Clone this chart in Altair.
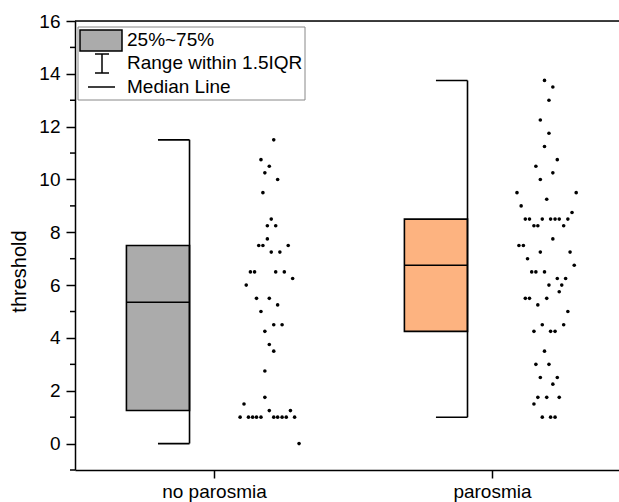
import altair as alt
import pandas as pd

# ---- data ----
categories = ["no parosmia", "parosmia"]
cat_pos = [1, 2]
q1 = [1.25, 4.25]
q3 = [7.5, 8.5]
median = [5.35, 6.75]
whisk_lo = [0.0, 1.0]
whisk_hi = [11.5, 13.75]
box_colors = ["#ABABAB", "#FDB380"]
major_ticks = list(range(0, 17, 2))
minor_ticks = list(range(-1, 16, 2))

# no parosmia raw points: value, jitter offset (x units from category)
np_vals = [11.5, 10.75, 10.5, 10.25, 10.0, 9.5, 8.5, 8.25, 8.25, 7.75,
           7.5, 7.5, 7.5, 7.25, 7.25, 6.5, 6.5, 6.5, 6.5, 6.25,
           6.0, 5.5, 5.5, 5.25, 5.0, 4.5, 4.5, 4.25, 3.75, 3.5,
           2.75, 1.75, 1.5, 1.25, 1.25,
           1.0, 1.0, 1.0, 1.0, 1.0, 1.0, 1.0, 1.0, 1.0, 1.0, 0.0]
np_jit = [0.215, 0.169, 0.199, 0.183, 0.229, 0.176, 0.206, 0.192, 0.222, 0.192,
          0.161, 0.176, 0.267, 0.206, 0.237, 0.131, 0.146, 0.222, 0.253, 0.283,
          0.116, 0.153, 0.199, 0.229, 0.169, 0.215, 0.245, 0.183, 0.199, 0.215,
          0.183, 0.183, 0.108, 0.199, 0.275,
          0.094, 0.124, 0.139, 0.153, 0.169, 0.215, 0.229, 0.245, 0.260, 0.290, 0.306]

# parosmia raw points
p_vals = [13.75, 13.5, 13.0, 12.25, 11.75, 11.25, 10.75, 10.5, 10.25, 10.0,
          9.5, 9.5, 9.25, 9.0, 8.75,
          8.5, 8.5, 8.5, 8.5, 8.5, 8.5, 8.5,
          8.25, 8.25, 8.25, 7.75, 7.5, 7.5, 7.25, 7.25, 7.0, 6.75,
          6.5, 6.5, 6.5, 6.25, 6.25, 6.0, 6.0, 5.75,
          5.5, 5.5, 5.5, 5.25, 5.0, 4.5, 4.5, 4.25, 4.25, 4.25,
          3.5, 3.0, 3.0, 2.5, 2.5, 2.25, 1.75, 1.75, 1.75, 1.5,
          1.0, 1.0, 1.0]
p_jit = [0.189, 0.219, 0.205, 0.174, 0.205, 0.189, 0.235, 0.158, 0.219, 0.174,
         0.090, 0.303, 0.197, 0.105, 0.288,
         0.120, 0.135, 0.181, 0.211, 0.227, 0.242, 0.273,
         0.151, 0.165, 0.258, 0.219, 0.097, 0.113, 0.174, 0.281, 0.128, 0.296,
         0.143, 0.158, 0.189, 0.235, 0.265, 0.205, 0.251, 0.242,
         0.120, 0.135, 0.197, 0.165, 0.273, 0.181, 0.258, 0.151, 0.211, 0.227,
         0.189, 0.158, 0.205, 0.174, 0.235, 0.219, 0.165, 0.197, 0.242, 0.151,
         0.181, 0.211, 0.227]

# ---- build tables ----
BOX_L, BOX_R, CAP_L = -0.315, -0.088, -0.2015

pts = pd.DataFrame({
    "x": [cat_pos[0] + j for j in np_jit] + [cat_pos[1] + j for j in p_jit],
    "v": np_vals + p_vals,
})
box = pd.DataFrame({
    "cat": categories,
    "xl": [c + BOX_L for c in cat_pos],
    "xr": [c + BOX_R for c in cat_pos],
    "xc": [c + CAP_L for c in cat_pos],
    "q1": q1, "q3": q3, "med": median, "lo": whisk_lo, "hi": whisk_hi,
})

xscale = alt.Scale(domain=[0.5, 2.457], nice=False, zero=False)
yscale = alt.Scale(domain=[-1, 16], nice=False, zero=False)

xaxis = alt.Axis(values=cat_pos, title=None, grid=False, tickSize=8,
                 labelPadding=4, labelFontSize=19,
                 labelExpr="datum.value == 1 ? 'no parosmia' : 'parosmia'")
yaxis = alt.Axis(values=major_ticks, title="threshold", grid=False,
                 tickSize=9, labelFontSize=19, labelPadding=6, titleFontSize=20,
                 titleFontWeight="normal", titlePadding=9, titleY=250)

points = alt.Chart(pts).mark_circle(size=13, color="black", opacity=1).encode(
    x=alt.X("x:Q", scale=xscale, axis=xaxis),
    y=alt.Y("v:Q", scale=yscale, axis=yaxis),
)

bars = alt.Chart(box).mark_rect(stroke="black", strokeWidth=1.6).encode(
    x="xl:Q", x2="xr:Q", y="q1:Q", y2="q3:Q",
    fill=alt.Fill("cat:N", scale=alt.Scale(domain=categories, range=box_colors), legend=None),
)
med = alt.Chart(box).mark_rule(color="black", strokeWidth=1.6).encode(
    x="xl:Q", x2="xr:Q", y="med:Q")
whisk = alt.Chart(box).mark_rule(color="black", strokeWidth=1.6).encode(
    x="xr:Q", y="lo:Q", y2="hi:Q")
cap_hi = alt.Chart(box).mark_rule(color="black", strokeWidth=1.6).encode(
    x="xc:Q", x2="xr:Q", y="hi:Q")
cap_lo = alt.Chart(box).mark_rule(color="black", strokeWidth=1.6).encode(
    x="xc:Q", x2="xr:Q", y="lo:Q")

top = alt.Chart(pd.DataFrame({"t": [16]})).mark_rule(color="black", strokeWidth=1.5).encode(
    y="t:Q")
minor = alt.Chart(pd.DataFrame({"m": minor_ticks})).mark_rule(
    color="black", strokeWidth=1.5).encode(
    x=alt.value(-5), x2=alt.value(0), y="m:Q")

# ---- legend ----
one = pd.DataFrame({"a": [0]})
leg_frame = alt.Chart(one).mark_rect(fill="white", stroke="#888888", strokeWidth=1).encode(
    x=alt.value(3), x2=alt.value(230), y=alt.value(6), y2=alt.value(79))
leg_sw = alt.Chart(one).mark_rect(fill="#ABABAB", stroke="black", strokeWidth=1.5).encode(
    x=alt.value(5), x2=alt.value(47), y=alt.value(9), y2=alt.value(30))
leg_wv = alt.Chart(one).mark_rule(color="black", strokeWidth=1.5).encode(
    x=alt.value(27), y=alt.value(33), y2=alt.value(52))
leg_wt = alt.Chart(one).mark_rule(color="black", strokeWidth=1.5).encode(
    x=alt.value(20), x2=alt.value(34), y=alt.value(33))
leg_wb = alt.Chart(one).mark_rule(color="black", strokeWidth=1.5).encode(
    x=alt.value(20), x2=alt.value(34), y=alt.value(52))
leg_med = alt.Chart(one).mark_rule(color="black", strokeWidth=1.5).encode(
    x=alt.value(13), x2=alt.value(40), y=alt.value(66))
leg_texts = []
for txt, yy in [("25%~75%", 19), ("Range within 1.5IQR", 42), ("Median Line", 66)]:
    leg_texts.append(alt.Chart(one).mark_text(align="left", baseline="middle",
                                              fontSize=19, color="black").encode(
        x=alt.value(52), y=alt.value(yy), text=alt.value(txt)))

chart = alt.layer(
    bars, med, whisk, cap_hi, cap_lo, points, top, minor,
    leg_frame, leg_sw, leg_wv, leg_wt, leg_wb, leg_med, *leg_texts
).properties(
    width=544, height=449,
    autosize=alt.AutoSizeParams(type="none"),
    padding={"left": 75, "top": 21, "right": 0, "bottom": 32},
).configure_view(stroke=None).configure(
    font="Liberation Sans",
).configure_axis(
    domainColor="black", domainWidth=1.5, tickColor="black", tickWidth=1.5,
    labelColor="black", titleColor="black",
)

chart.save("out.html", embed_options={"renderer": "svg", "actions": False})
